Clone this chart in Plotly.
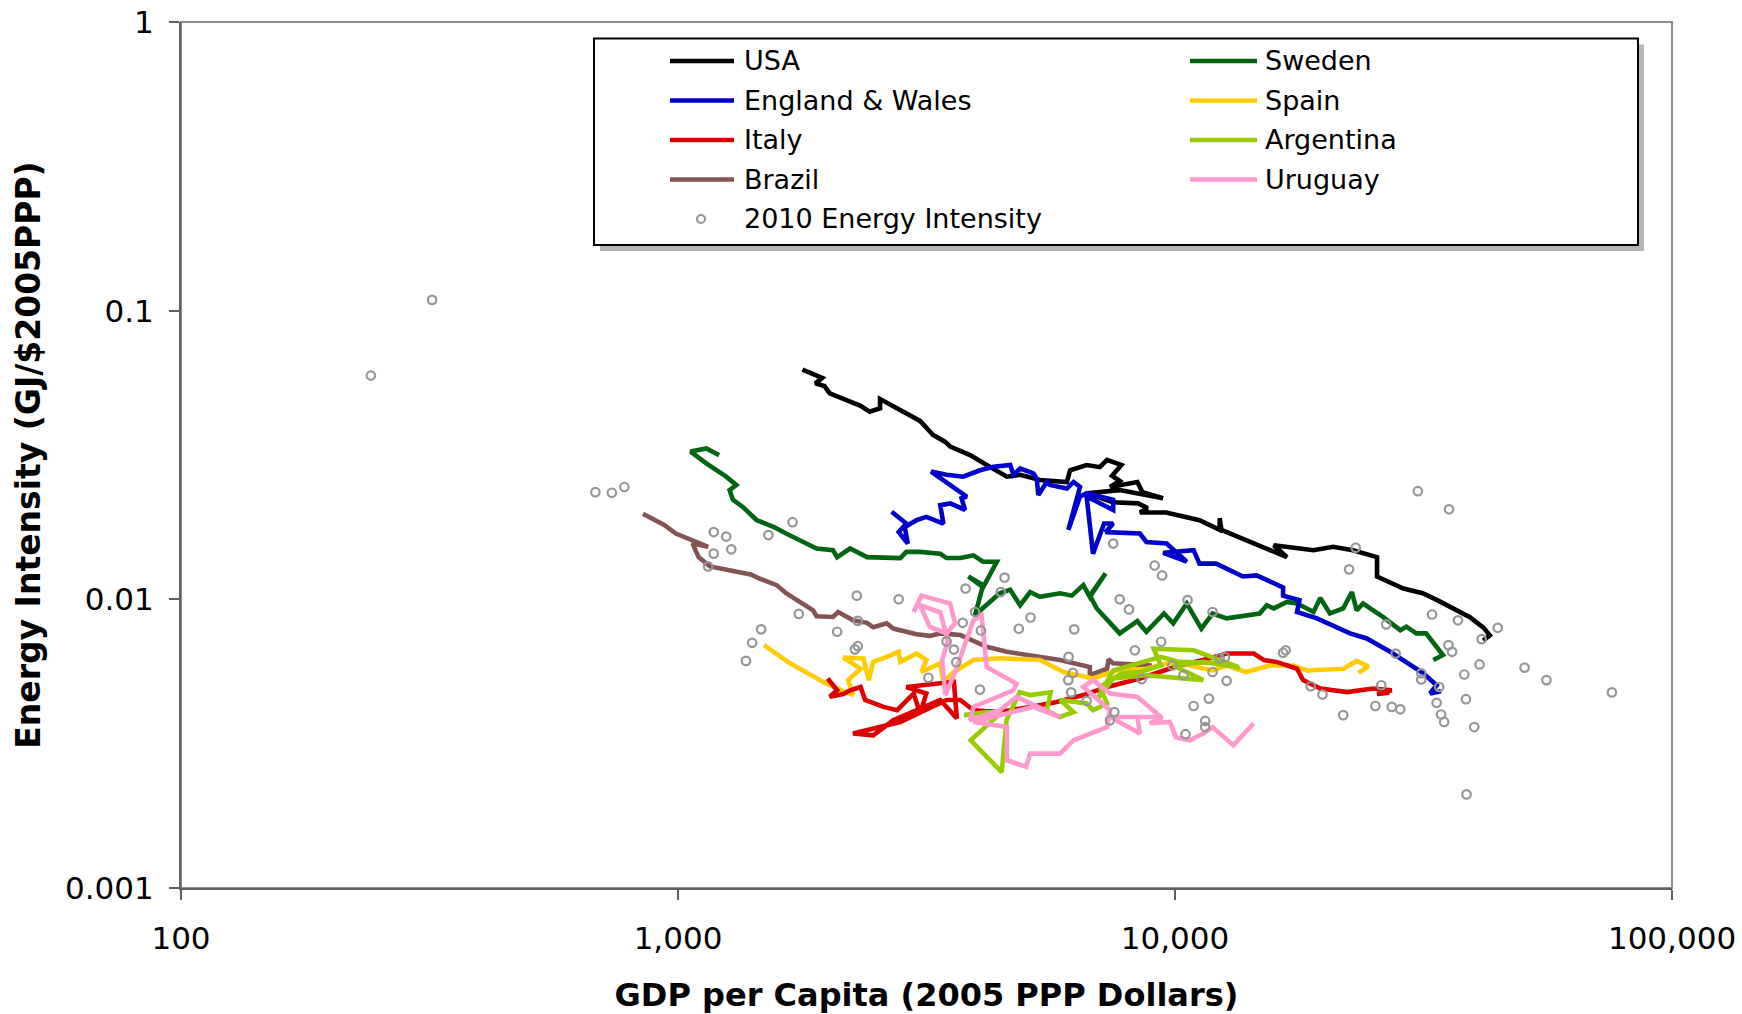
import plotly.graph_objects as go

# ---------------------------------------------------------------------------
# Historical paths: GDP per capita (2005 PPP $) and energy intensity (GJ/$)
# ---------------------------------------------------------------------------
usa_gdp = [1780, 1860, 1950, 1890, 1970, 2020, 2220, 2330, 2430, 2550, 2550, 2800, 2980, 3070, 3260,
           3450, 3530, 3870, 4180, 4440, 4590, 4880, 5350, 6060, 6150, 6640, 7060, 7300, 7800, 7470,
           7740, 7400, 8400, 8600, 9460, 7740, 6650, 7500, 8430, 8800, 8500, 9600, 11200, 12300, 12300,
           12400, 14400, 16800, 15800, 19000, 20800, 22800, 25500, 25500, 28800, 31500, 33700, 39200,
           41700, 43000, 41700]
usa_ei = [0.0625, 0.0603, 0.0585, 0.056, 0.0548, 0.0517, 0.0487, 0.0468, 0.0447, 0.0459, 0.0494, 0.0453,
          0.0429, 0.0415, 0.0371, 0.0351, 0.0338, 0.0316, 0.0292, 0.0276, 0.0266, 0.0270, 0.0259, 0.0255,
          0.0280, 0.0292, 0.0287, 0.0304, 0.0292, 0.0268, 0.0257, 0.0245, 0.0255, 0.0235, 0.0224, 0.0239,
          0.0233, 0.0217, 0.0215, 0.0207, 0.0200, 0.0200, 0.0188, 0.0174, 0.0191, 0.0174, 0.0157, 0.0140,
          0.0154, 0.0148, 0.0152, 0.0148, 0.0140, 0.0120, 0.0109, 0.0105, 0.00994, 0.00867, 0.0080,
          0.0075, 0.0072]

eng_gdp = [2690, 2880, 2780, 2900, 2860, 3020, 3160, 3420, 3370, 3530, 3780, 3720, 3810, 3230, 3470,
           3750, 4050, 4310, 4660, 4730, 4880, 5190, 5270, 5310, 5520, 5600, 6060, 6250, 6440, 6100,
           6440, 6640, 7510, 7510, 6640, 6840, 7200, 7510, 7250, 8500, 8760, 9620, 10560, 9470, 10900,
           11200, 12100, 13700, 14600, 16500, 16500, 17800, 17600, 19300, 22500, 24300, 27100, 29200,
           31600, 33600, 32600, 34300]
eng_ei = [0.0201, 0.0183, 0.0171, 0.0156, 0.0178, 0.0188, 0.0193, 0.0183, 0.0212, 0.0215, 0.0204, 0.0224,
          0.0227, 0.0277, 0.0270, 0.0266, 0.0280, 0.0288, 0.0292, 0.0270, 0.0284, 0.0273, 0.0262, 0.0230,
          0.0255, 0.0249, 0.0242, 0.0255, 0.0245, 0.0174, 0.0227, 0.0233, 0.0221, 0.0204, 0.0227, 0.0144,
          0.0183, 0.0183, 0.0171, 0.0169, 0.0158, 0.0156, 0.0135, 0.0145, 0.0148, 0.0133, 0.0133, 0.0120,
          0.0121, 0.0110, 0.0103, 0.00994, 0.00904, 0.00859, 0.00762, 0.00732, 0.00658, 0.00607,
          0.00554, 0.00504, 0.00472, 0.00480]

swe_gdp = [1210, 1140, 1060, 1140, 1250, 1310, 1270, 1290, 1350, 1440, 1560, 1650, 1900, 2050, 2090,
           2220, 2400, 2590, 2800, 2880, 3070, 3370, 3470, 3700, 3930, 4110, 4380, 4110, 3840, 4110,
           3960, 4440, 4660, 4880, 5110, 5350, 5870, 6200, 6540, 6740, 7250, 6740, 6960, 7740, 8400,
           8760, 9500, 9920, 10560, 11300, 11900, 12700, 14800, 15300, 15800, 16800, 17600, 19000,
           19600, 20500, 21800, 22700, 23200, 23900, 26200, 28400, 29200, 30600, 32000, 34600, 33100]
swe_ei = [0.0316, 0.0333, 0.0325, 0.0296, 0.0266, 0.0249, 0.0239, 0.0221, 0.0209, 0.0188, 0.0178, 0.0169,
          0.0150, 0.0148, 0.0140, 0.0150, 0.0140, 0.0139, 0.0139, 0.0146, 0.0146, 0.0144, 0.0139, 0.0139,
          0.0142, 0.0135, 0.0135, 0.0110, 0.0120, 0.0112, 0.00882, 0.0105, 0.0108, 0.00954, 0.0106,
          0.0102, 0.0105, 0.0103, 0.0112, 0.0102, 0.0123, 0.0103, 0.0093, 0.00762, 0.0084, 0.00772,
          0.00893, 0.00826, 0.00967, 0.00792, 0.00893, 0.00859, 0.00893, 0.00954, 0.0093, 0.0098,
          0.00967, 0.00904, 0.0101, 0.00893, 0.0093, 0.0106, 0.00916, 0.00967, 0.00869, 0.00782,
          0.00804, 0.00762, 0.00762, 0.00641, 0.00616]

bra_gdp = [850, 938, 990, 1150, 1070, 1100, 1160, 1310, 1400, 1460, 1580, 1650, 1760, 1870, 1900,
           2050, 2100, 2250, 2400, 2470, 2630, 2710, 3020, 3210, 3370, 3700, 4180, 4590, 5870, 6740,
           6740, 7300, 7350, 7510, 8980]
bra_ei = [0.0198, 0.0181, 0.0169, 0.0152, 0.0156, 0.0140, 0.0130, 0.0125, 0.0122, 0.0118, 0.0112, 0.0105,
          0.0098, 0.00916, 0.00874, 0.00869, 0.00904, 0.00846, 0.00829, 0.0080, 0.00826, 0.00792,
          0.00757, 0.00747, 0.00762, 0.00752, 0.00685, 0.00658, 0.00616, 0.00583, 0.00546, 0.00575,
          0.0062, 0.0060, 0.0059]

esp_gdp = [1490, 1680, 1990, 2250, 2200, 2330, 2150, 2360, 2420, 2470, 2630, 2780, 2800, 3020, 3160,
           3090, 3370, 3420, 3590, 3930, 4440, 5350, 5970, 6840, 7630, 8760, 9920, 11900, 12700, 13900,
           15500, 17300, 18400, 21800, 23200, 24500, 23400]
esp_ei = [0.00694, 0.0060, 0.0051, 0.00466, 0.00525, 0.00575, 0.00629, 0.00624, 0.00525, 0.00607,
          0.00632, 0.00658, 0.00607, 0.00649, 0.00616, 0.0056, 0.0060, 0.00518, 0.0056, 0.00616,
          0.00625, 0.00616, 0.0056, 0.00532, 0.00567, 0.00575, 0.00607, 0.00567, 0.0059, 0.0056,
          0.0059, 0.0059, 0.00567, 0.00575, 0.00612, 0.00586, 0.00556]

ita_gdp = [2000, 2090, 2020, 2150, 2220, 2330, 2380, 2590, 2760, 2980, 3070, 3160, 2880, 3590, 3640,
           3370, 2710, 2470, 2250, 2800, 3470, 3700, 3930, 4440, 5110, 5780, 6540, 7300, 8500, 10200,
           11400, 12700, 14400, 15100, 16000, 17600, 18100, 19600, 22200, 25000, 27300, 25500, 27000]
ita_ei = [0.00532, 0.00484, 0.00460, 0.00470, 0.00484, 0.00497, 0.00448, 0.00424, 0.00413, 0.00472,
          0.00402, 0.00472, 0.00497, 0.00518, 0.00387, 0.00448, 0.00381, 0.00338, 0.00343, 0.00376,
          0.00448, 0.00448, 0.00413, 0.00407, 0.00424, 0.00441, 0.00466, 0.00497, 0.00532, 0.0059,
          0.00616, 0.00649, 0.00649, 0.00616, 0.00607, 0.00575, 0.00525, 0.00491, 0.00477, 0.00491,
          0.00484, 0.00470, 0.00475]

arg_gdp = [3760, 4150, 4480, 3880, 4480, 4580, 4870, 5110, 5620, 5520, 5860, 6250, 5870, 6640, 6840,
           7300, 7060, 7820, 8500, 9370, 9060, 10900, 13400, 11400, 9920, 11400, 8760, 7510, 6960, 7510,
           9370, 10200, 12700, 13500]
arg_ei = [0.00397, 0.00406, 0.00407, 0.00325, 0.00252, 0.00381, 0.00477, 0.00466, 0.00477, 0.00413,
          0.00391, 0.00407, 0.00448, 0.00436, 0.00413, 0.00436, 0.00497, 0.00554, 0.0056, 0.0059,
          0.00675, 0.00666, 0.00583, 0.00607, 0.0059, 0.00525, 0.00546, 0.00532, 0.00448, 0.00567,
          0.00632, 0.00607, 0.0060, 0.00575]

uru_gdp = [2980, 3090, 3530, 3610, 3470, 3210, 3070, 3370, 3490, 3400, 3450, 3610, 3930, 4080, 4180,
           4800, 4730, 3930, 3870, 4440, 4800, 5870, 5180, 3930, 4590, 4590, 5020, 5110, 5870, 6250,
           7300, 7400, 6540, 6840, 7400, 8400, 9370, 7400, 8500, 8400, 9440, 8900, 9770, 10040, 10700,
           11400, 11900, 12700, 13100, 14400]
uru_ei = [0.00904, 0.0103, 0.00967, 0.00826, 0.00762, 0.00804, 0.00954, 0.00902, 0.0072, 0.00616,
          0.00466, 0.00558, 0.00846, 0.00882, 0.00583, 0.0051, 0.00484, 0.00424, 0.00381, 0.00413,
          0.00459, 0.00391, 0.00424, 0.00376, 0.00361, 0.00277, 0.00263, 0.00292, 0.00292, 0.00325,
          0.00361, 0.00413, 0.00497, 0.00525, 0.00472, 0.00459, 0.00391, 0.00391, 0.00343, 0.00391,
          0.00391, 0.00372, 0.00376, 0.00333, 0.00325, 0.00343, 0.00361, 0.00325, 0.00312, 0.00372]

# 2010 cross-section of countries
gdp_2010 = [320, 241, 682, 736, 780, 1180, 1250, 1180, 1280, 1150,
            1520, 1700, 2290, 2780, 1750, 2300, 2090, 1470, 1410, 1370,
            2270, 2300, 3790, 4540, 4460, 3960, 3740, 4070, 3470, 3590,
            3630, 5120, 4850, 3190, 4050, 6270, 6110, 6230, 6100, 6180,
            6640, 7740, 8080, 8300, 9380, 8570, 9880, 7550, 7400, 10600,
            11900, 10400, 11900, 12700, 12300, 12600, 16700, 16500, 11700, 10900,
            11500, 11500, 10500, 18750, 19800, 21800, 26000, 25300, 27300, 28400,
            27800, 31300, 31300, 34000, 32900, 37100, 35500, 36100, 38200, 38500,
            33600, 34300, 34800, 40000, 41000, 41400, 44600, 50500, 55900, 75700,
            38600, 30800, 35600, 23100, 22400, 9100, 9420, 26600, 7510]
ei_2010 = [0.109, 0.0596, 0.0235, 0.0234, 0.0245, 0.0171, 0.0165, 0.0144, 0.0149, 0.0130,
           0.0167, 0.0185, 0.0103, 0.0100, 0.0089, 0.00842, 0.00772, 0.00787, 0.00707, 0.00612,
           0.00671, 0.00688, 0.0109, 0.0119, 0.0106, 0.00904, 0.00829, 0.0078, 0.00715, 0.0067,
           0.00606, 0.00865, 0.00791, 0.00535, 0.00487, 0.00787, 0.00632, 0.00556, 0.00525, 0.00476,
           0.00445, 0.0100, 0.00923, 0.00666, 0.00713, 0.00529, 0.0059, 0.00407, 0.00381, 0.00994,
           0.00904, 0.00546, 0.0056, 0.00522, 0.00625, 0.0063, 0.00666, 0.00653, 0.00453, 0.00427,
           0.00379, 0.00361, 0.00341, 0.0050, 0.00468, 0.00397, 0.00504, 0.00427, 0.00424, 0.00416,
           0.00649, 0.00554, 0.00528, 0.00497, 0.00886, 0.00846, 0.00694, 0.00658, 0.00549, 0.00451,
           0.00438, 0.00399, 0.00376, 0.00361, 0.00595, 0.00728, 0.00797, 0.0058, 0.00525, 0.00476,
           0.00211, 0.0237, 0.0205, 0.0151, 0.0127, 0.0131, 0.0121, 0.00819, 0.0156]

x_tickvals = [100, 1000, 10000, 100000]
x_ticktext = ["100", "1,000", "10,000", "100,000"]
y_tickvals = [0.001, 0.01, 0.1, 1]
y_ticktext = ["0.001", "0.01", "0.1", "1"]

# name -> (gdp, intensity, colour); dict order is the drawing order
series = {
    "USA": (usa_gdp, usa_ei, "#000000"),
    "Sweden": (swe_gdp, swe_ei, "#006411"),
    "Brazil": (bra_gdp, bra_ei, "#845454"),
    "England & Wales": (eng_gdp, eng_ei, "#0000CC"),
    "Spain": (esp_gdp, esp_ei, "#FFCC00"),
    "Italy": (ita_gdp, ita_ei, "#DD0000"),
    "Argentina": (arg_gdp, arg_ei, "#99CC00"),
    "Uruguay": (uru_gdp, uru_ei, "#FF99CC"),
}
legend_order = ["USA", "Sweden", "England & Wales", "Spain", "Italy", "Argentina", "Brazil", "Uruguay"]
scatter_name = "2010 Energy Intensity"
scatter_color = "#969696"

FONT = "Verdana, DejaVu Sans, sans-serif"
W, H = 1742, 1014
ML, MR, MT, MB = 181, 70, 22, 126
PW, PH = W - ML - MR, H - MT - MB


def to_px(x):
    return (x - ML) / PW


def to_py(y):
    return (H - MB - y) / PH


fig = go.Figure()
for name, (gx, ey, col) in series.items():
    fig.add_trace(go.Scatter(x=gx, y=ey, mode="lines", name=name,
                             line=dict(color=col, width=4.6), showlegend=False,
                             hoverinfo="name+x+y"))
fig.add_trace(go.Scatter(x=gdp_2010, y=ei_2010, mode="markers", name=scatter_name,
                         marker=dict(symbol="circle-open", size=8.5, color=scatter_color,
                                     line=dict(width=2.2, color=scatter_color)),
                         showlegend=False))

shapes = []
annotations = []

# plot frame (top / right edges)
shapes.append(dict(type="rect", xref="paper", yref="paper", x0=0, x1=1, y0=0, y1=1,
                   line=dict(color="#8c8c8c", width=2), layer="below"))

# legend box with drop shadow
bx0, bx1, by0, by1 = 594, 1638, 38.5, 245
shapes.append(dict(type="rect", xref="paper", yref="paper",
                   x0=to_px(bx0 + 6), x1=to_px(bx1 + 6), y0=to_py(by1 + 6), y1=to_py(by0 + 6),
                   fillcolor="#b4b4b4", line=dict(width=0), layer="above"))
shapes.append(dict(type="rect", xref="paper", yref="paper",
                   x0=to_px(bx0), x1=to_px(bx1), y0=to_py(by1), y1=to_py(by0),
                   fillcolor="white", line=dict(color="black", width=2), layer="above"))

row_y = [61, 100.5, 140, 179.5, 219]
col_line = [(670, 734), (1190, 1257)]
col_text = [742, 1263]
for i, name in enumerate(legend_order):
    c, r = i % 2, i // 2
    lx0, lx1 = col_line[c]
    shapes.append(dict(type="line", xref="paper", yref="paper",
                       x0=to_px(lx0), x1=to_px(lx1), y0=to_py(row_y[r]), y1=to_py(row_y[r]),
                       line=dict(color=series[name][2], width=4.6), layer="above"))
    annotations.append(dict(xref="paper", yref="paper", x=to_px(col_text[c]), y=to_py(row_y[r]),
                            text=name, showarrow=False, xanchor="left", yanchor="middle",
                            font=dict(family=FONT, size=27, color="black")))
cx, cy, rad = 701, row_y[4], 4
shapes.append(dict(type="circle", xref="paper", yref="paper",
                   x0=to_px(cx - rad), x1=to_px(cx + rad), y0=to_py(cy + rad), y1=to_py(cy - rad),
                   line=dict(color=scatter_color, width=2.2), layer="above"))
annotations.append(dict(xref="paper", yref="paper", x=to_px(col_text[0]), y=to_py(row_y[4]),
                        text=scatter_name, showarrow=False, xanchor="left", yanchor="middle",
                        font=dict(family=FONT, size=27, color="black")))

axis_common = dict(type="log", showgrid=False, zeroline=False, showline=True,
                   linecolor="#606060", linewidth=2, ticks="outside", ticklen=10,
                   tickwidth=2, tickcolor="#606060",
                   tickfont=dict(family=FONT, size=31, color="black"))

fig.update_layout(
    width=W, height=H,
    margin=dict(l=ML, r=MR, t=MT, b=MB, autoexpand=False),
    paper_bgcolor="white", plot_bgcolor="white",
    showlegend=False,
    font=dict(family=FONT, color="black"),
    xaxis=dict(range=[2, 5], tickvals=x_tickvals, ticktext=x_ticktext,
               ticklabelstandoff=12,
               title=dict(text="GDP per Capita (2005 PPP Dollars)", standoff=36,
                          font=dict(family=FONT, size=32, color="black", weight="bold")),
               **axis_common),
    yaxis=dict(range=[-3, 0], tickvals=y_tickvals, ticktext=y_ticktext,
               ticklabelstandoff=9,
               title=dict(text="Energy Intensity (GJ/$2005PPP)", standoff=14,
                          font=dict(family=FONT, size=33, color="black", weight="bold")),
               **axis_common),
    shapes=shapes,
    annotations=annotations,
)

fig.write_html("out.html")
